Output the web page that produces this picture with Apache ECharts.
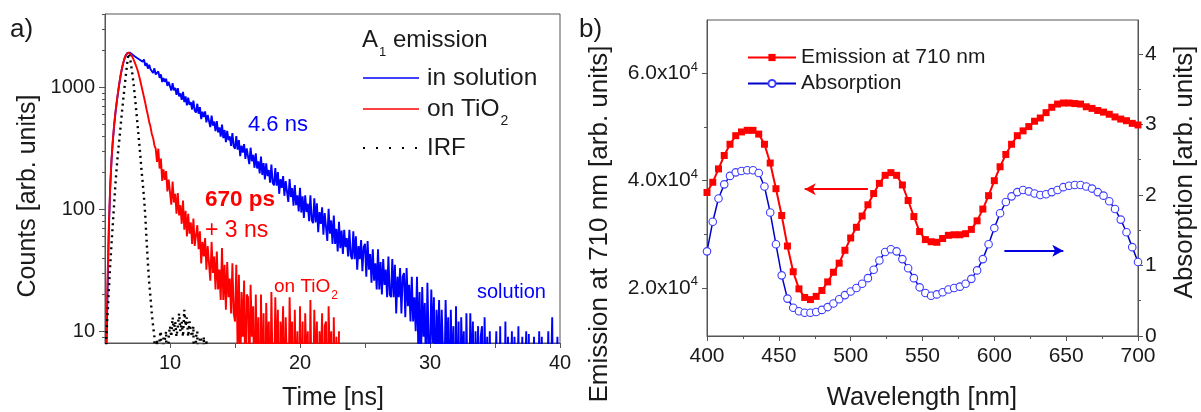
<!DOCTYPE html>
<html>
<head>
<meta charset="utf-8">
<script src="https://cdn.jsdelivr.net/npm/echarts@6.0.0/dist/echarts.min.js"></script>
<style>html,body{margin:0;padding:0;background:#fff}#main{width:1201px;height:412px}</style>
</head>
<body>
<div id="main"></div>
<script>
// ---------------- Panel a: time-resolved counts (t = timeStartNs + i*timeStepNs) ----------------
const timeStartNs = 5.0;
const timeStepNs = 0.1;
const solutionCounts = [
  1, 6, 22, 70, 150, 250, 360, 480, 610, 750,
  900, 1070, 1250, 1420, 1580, 1720, 1830, 1905, 1940, 1930,
  1905, 1860, 1875, 1790, 1810, 1735, 1760, 1680, 1710, 1620,
  1694, 1506, 1583, 1426, 1535, 1408, 1435, 1314, 1433, 1277,
  1233, 1351, 1196, 1278, 1107, 1192, 1112, 1177, 1028, 1109,
  1102, 943, 1085, 946, 992, 869, 985, 845, 893, 789,
  917, 758, 842, 711, 823, 720, 756, 659, 778, 646,
  621, 734, 608, 689, 549, 631, 570, 636, 516, 593,
  588, 473, 586, 485, 525, 437, 530, 428, 469, 395,
  495, 383, 447, 356, 440, 369, 397, 331, 422, 328,
  314, 398, 309, 370, 273, 333, 292, 343, 259, 316,
  317, 235, 320, 248, 279, 219, 288, 216, 247, 197,
  271, 191, 239, 176, 238, 187, 210, 165, 233, 165,
  157, 218, 156, 202, 134, 177, 150, 187, 129, 170,
  172, 115, 177, 126, 149, 107, 158, 108, 130, 96,
  150, 94, 128, 85, 130, 95, 111, 80, 130, 82,
  77, 123, 78, 112, 65, 95, 76, 104, 62, 93,
  95, 55, 101, 63, 81, 52, 89, 52, 69, 45,
  79, 48, 67, 43, 68, 49, 58, 41, 68, 42,
  39, 66, 39, 60, 32, 50, 39, 56, 31, 49,
  52, 28, 55, 32, 43, 25, 47, 26, 36, 22,
  47, 22, 37, 20, 39, 24, 32, 19, 41, 20,
  19, 39, 19, 35, 14, 28, 19, 33, 14, 28,
  30, 13, 33, 16, 24, 12, 28, 12, 19, 10,
  28, 7, 21, 5, 23, 9, 17, 4, 25, 8,
  6, 22, 8, 19, 3, 15, 7, 18, 4, 15,
  15, 3, 18, 6, 13, 2, 15, 4, 11, 1,
  16, 2, 12, 1, 13, 5, 10, 1, 14, 3,
  2, 14, 4, 12, 1, 10, 3, 11, 1, 9,
  11, 1, 13, 3, 9, 1, 10, 2, 7, 1,
  1, 10, 2, 1, 11, 1, 4, 1, 12, 1,
  9, 1, 3, 10, 1, 9, 1, 2, 11, 1,
  1, 9, 1, 3, 10, 1, 9.5, 1, 1, 2,
  9, 1, 1, 2, 10, 1, 9, 1, 3, 1,
  1, 10, 1, 1, 13, 1, 2, 1, 9, 1,
  1
];
const tio2Counts = [
  1, 8, 28, 75, 155, 255, 365, 490, 620, 760,
  910, 1080, 1260, 1430, 1590, 1730, 1840, 1910, 1935, 1910,
  1860, 1780, 1690, 1590, 1490, 1390, 1270, 1150, 1030, 925,
  830, 745, 655, 590, 520, 475, 415, 385, 335, 315,
  245, 314, 216, 261, 171, 213, 174, 206, 140, 175,
  173, 109, 169, 114, 134, 92, 136, 89, 108, 76,
  118, 68, 97, 60, 92, 63, 78, 52, 84, 50,
  49, 74, 47, 66, 36, 54, 41, 58, 32, 50,
  50, 26, 54, 30, 41, 22, 45, 22, 32, 18,
  48, 18, 35, 15, 37, 19, 27, 14, 36, 14,
  12, 35, 7, 29, 4, 21, 9, 26, 3, 20,
  19, 4, 24, 9, 16, 2, 20, 5, 13, 1,
  20, 3, 14, 1, 17, 6, 12, 2, 21, 4,
  3, 19, 5, 15, 1, 12, 6, 16, 2, 13,
  13, 2, 19, 6, 12, 1, 15, 3, 10, 1,
  16, 2, 12, 1, 14, 5, 10, 1, 18, 3,
  2, 15, 4, 12, 1, 10, 5, 14, 1, 11,
  12, 1, 16, 5, 10, 1, 13, 2, 9, 1,
  10
];
const irfCounts = [
  1, 9, 14, 22, 35, 52, 75, 110, 160, 220,
  290, 370, 480, 620, 790, 1000, 1250, 1550, 1900, 1800,
  1550, 1300, 1060, 840, 650, 500, 380, 290, 215, 165,
  125, 88, 55, 36, 25, 19, 14, 11, 9, 1,
  8.5, 1, 9, 10, 1, 9, 8.5, 10, 1, 9,
  11, 9, 13, 10, 12, 9, 11, 14, 10, 12,
  9, 15, 11, 13, 9, 12, 10, 9, 11, 1,
  9, 10, 1, 9, 8.5, 1, 9, 1, 8.5, 1,
  1
];
const timeTicks = [10, 20, 30, 40];
const countMajorTicks = [10, 100, 1000];
const countMinorTicks = [9, 20, 30, 40, 50, 60, 70, 80, 90, 200, 300, 400, 500, 600, 700, 800, 900, 2000, 3000, 4000];

// ---------------- Panel b: spectra ----------------
const wavelengths = [
  400, 404, 408, 412, 416, 420, 424, 428, 432, 436,
  440, 444, 448, 452, 456, 460, 464, 468, 472, 476,
  480, 484, 488, 492, 496, 500, 504, 508, 512, 516,
  520, 524, 528, 532, 536, 540, 544, 548, 552, 556,
  560, 564, 568, 572, 576, 580, 584, 588, 592, 596,
  600, 604, 608, 612, 616, 620, 624, 628, 632, 636,
  640, 644, 648, 652, 656, 660, 664, 668, 672, 676,
  680, 684, 688, 692, 696, 700
];
const emission710 = [
  37800, 39700, 42200, 44700, 46800, 48400, 49100, 49400, 49400, 48700,
  46800, 43300, 38500, 33500, 27800, 23000, 19800, 18200, 17800, 18400,
  19500, 21100, 22900, 24600, 27000, 29300, 31300, 33400, 35500, 37600,
  39500, 41000, 41500, 41000, 39200, 36300, 33300, 30500, 29000, 28600,
  28500, 29200, 29800, 29900, 29900, 30100, 30900, 32500, 34700, 37200,
  40000, 42600, 44900, 46800, 48400, 49300, 50100, 51100, 51700, 52700,
  53700, 54300, 54500, 54500, 54400, 54300, 53800, 53500, 53100, 52800,
  52400, 51900, 51500, 51200, 50700, 50400
];
const absorption = [
  1.20, 1.62, 1.95, 2.15, 2.27, 2.32, 2.34, 2.35, 2.35, 2.31,
  2.12, 1.75, 1.30, 0.86, 0.53, 0.40, 0.35, 0.33, 0.33, 0.34,
  0.37, 0.41, 0.46, 0.52, 0.58, 0.63, 0.68, 0.74, 0.82, 0.94,
  1.07, 1.19, 1.23, 1.20, 1.09, 0.96, 0.82, 0.69, 0.61, 0.57,
  0.59, 0.62, 0.66, 0.68, 0.70, 0.74, 0.81, 0.93, 1.09, 1.30,
  1.53, 1.74, 1.90, 1.98, 2.04, 2.07, 2.05, 2.02, 2.00, 2.01,
  2.04, 2.07, 2.11, 2.13, 2.14, 2.14, 2.12, 2.09, 2.04, 1.99,
  1.91, 1.80, 1.65, 1.47, 1.26, 1.05
];
const emissionMajorTicks = [20000, 40000, 60000];
const emissionMinorTicks = [30000, 50000];
const absorptionMajorTicks = [0, 1, 2, 3, 4];
const absorptionMinorTicks = [0.5, 1.5, 2.5, 3.5];
// arrow annotations (data units): [x start, x end, y]
const emissionArrow = [512, 468, 38400];
const absorptionArrow = [607, 648, 1.21];

// ---------------- build ----------------
const FONT = '"Liberation Sans", Arial, Helvetica, sans-serif';
const TXT = '#1a1a1a';
const AX = '#555555';

function withTime(values) {
  return values.map((v, i) => [+(timeStartNs + i * timeStepNs).toFixed(2), v]);
}
function zip(xs, ys) { return xs.map((x, i) => [x, ys[i]]); }

function txt(x, y, text, extra, rotation) {
  return {
    type: 'text', x: x, y: y, silent: true, z: 100, rotation: rotation || 0,
    style: Object.assign({
      text: text, fill: TXT, fontFamily: FONT, fontSize: 20,
      align: 'left', verticalAlign: 'middle'
    }, extra || {})
  };
}
function subRich(size, subSize, color, drop) {
  return {
    m: {fontSize: size, fill: color, fontFamily: FONT},
    s: {fontSize: subSize, fill: color, fontFamily: FONT, padding: [drop, 0, 0, 1]}
  };
}

const chart = echarts.init(document.getElementById('main'), null, {renderer: 'canvas', width: 1201, height: 412});

const axisCommon = {
  axisLine: {show: true, onZero: false, lineStyle: {color: AX, width: 1}},
  axisTick: {show: true, inside: false, length: 5, lineStyle: {color: AX, width: 1}},
  splitLine: {show: false},
  minorSplitLine: {show: false}
};
// helper axis drawing only short minor ticks at given values
function minorAxis(base, values, position) {
  return Object.assign({}, base, {
    position: position,
    axisLine: {show: false},
    axisLabel: {show: false},
    splitLine: {show: false},
    axisTick: {show: true, inside: false, length: 3, customValues: values, lineStyle: {color: AX, width: 1}}
  });
}

const yCountBase = {gridIndex: 0, type: 'log', logBase: 10, min: 8, max: 4000};
const yEmisBase = {gridIndex: 1, type: 'value', min: 11000, max: 70000};
const yAbsBase = {gridIndex: 1, type: 'value', min: 0, max: 4.48};

const option = {
  animation: false,
  backgroundColor: '#ffffff',
  textStyle: {fontFamily: FONT, color: TXT},
  grid: [
    {left: 105, top: 14, width: 455, height: 329, show: true, borderColor: AX, borderWidth: 1, backgroundColor: 'transparent', containLabel: false, outerBoundsMode: 'none'},
    {left: 707, top: 20, width: 431, height: 316, show: true, borderColor: AX, borderWidth: 1, backgroundColor: 'transparent', containLabel: false, outerBoundsMode: 'none'}
  ],
  xAxis: [
    Object.assign({}, axisCommon, {
      gridIndex: 0, type: 'value', min: 5, max: 40, interval: 5,
      axisLabel: {fontSize: 20, color: TXT, margin: 10, showMinLabel: false,
        formatter: v => timeTicks.indexOf(Math.round(v)) >= 0 ? String(Math.round(v)) : ''}
    }),
    Object.assign({}, axisCommon, {
      gridIndex: 1, type: 'value', min: 400, max: 700, interval: 50,
      minorTick: {show: true, splitNumber: 2, length: 3, lineStyle: {color: AX}},
      axisLabel: {fontSize: 21, color: TXT, margin: 10}
    })
  ],
  yAxis: [
    Object.assign({}, axisCommon, yCountBase, {
      axisTick: {show: true, inside: false, length: 6, customValues: countMajorTicks, lineStyle: {color: AX, width: 1}},
      axisLabel: {fontSize: 20, color: TXT, margin: 10, customValues: countMajorTicks,
        formatter: v => String(Math.round(v))}
    }),
    Object.assign({}, axisCommon, yEmisBase, {
      position: 'left',
      axisTick: {show: true, inside: false, length: 5, customValues: emissionMajorTicks, lineStyle: {color: AX, width: 1}},
      axisLabel: {color: TXT, margin: 9, customValues: emissionMajorTicks,
        formatter: v => '{m|' + (v / 10000).toFixed(1) + 'x10}{s|4}',
        rich: {m: {fontSize: 21, color: TXT, fontFamily: FONT}, s: {fontSize: 13, color: TXT, fontFamily: FONT, padding: [0, 0, 12, 0]}}}
    }),
    Object.assign({}, axisCommon, yAbsBase, {
      position: 'right',
      axisTick: {show: true, inside: false, length: 5, customValues: absorptionMajorTicks, lineStyle: {color: AX, width: 1}},
      axisLabel: {fontSize: 21, color: TXT, margin: 7, customValues: absorptionMajorTicks,
        formatter: v => String(Math.round(v))}
    }),
    minorAxis(yCountBase, countMinorTicks, 'left'),
    minorAxis(yEmisBase, emissionMinorTicks, 'left'),
    minorAxis(yAbsBase, absorptionMinorTicks, 'right')
  ],
  legend: [{
    data: ['Emission at 710 nm', 'Absorption'],
    left: 742, top: 42, orient: 'vertical', itemWidth: 48, itemHeight: 9, itemGap: 5,
    selectedMode: false,
    textStyle: {fontSize: 21, color: TXT, fontFamily: FONT}
  }],
  series: [
    {
      name: 'in solution', type: 'line', xAxisIndex: 0, yAxisIndex: 0,
      data: withTime(solutionCounts), symbol: 'none', silent: true, z: 2,
      lineStyle: {color: '#0000ff', width: 1.9, join: 'bevel'}, itemStyle: {color: '#0000ff'}
    },
    {
      name: 'on TiO2', type: 'line', xAxisIndex: 0, yAxisIndex: 0,
      data: withTime(tio2Counts), symbol: 'none', silent: true, z: 3,
      lineStyle: {color: '#ff0000', width: 1.9, join: 'bevel'}, itemStyle: {color: '#ff0000'}
    },
    {
      name: 'IRF', type: 'line', xAxisIndex: 0, yAxisIndex: 0,
      data: withTime(irfCounts), symbol: 'none', silent: true, z: 4,
      lineStyle: {color: '#000000', width: 2.4, type: [2, 4]}, itemStyle: {color: '#000000'}
    },
    {
      name: 'Emission at 710 nm', type: 'line', xAxisIndex: 1, yAxisIndex: 1,
      data: zip(wavelengths, emission710), symbol: 'rect', symbolSize: 7, showAllSymbol: true,
      silent: true, z: 3,
      lineStyle: {color: '#ff0000', width: 2}, itemStyle: {color: '#ff0000'},
      markLine: {
        silent: true, symbol: ['none', 'arrow'], symbolSize: [9, 11],
        label: {show: false}, lineStyle: {color: '#ff0000', width: 2, type: 'solid'},
        data: [[{coord: [emissionArrow[0], emissionArrow[2]]}, {coord: [emissionArrow[1], emissionArrow[2]]}]]
      }
    },
    {
      name: 'Absorption', type: 'line', xAxisIndex: 1, yAxisIndex: 2,
      data: zip(wavelengths, absorption), symbol: 'circle', symbolSize: 7.5, showAllSymbol: true,
      silent: true, z: 2,
      lineStyle: {color: '#0000c8', width: 1.5},
      itemStyle: {color: '#ffffff', borderColor: '#3c3cff', borderWidth: 1.1},
      markLine: {
        silent: true, symbol: ['none', 'arrow'], symbolSize: [9, 11],
        label: {show: false}, lineStyle: {color: '#0000e0', width: 2, type: 'solid'},
        data: [[{coord: [absorptionArrow[0], absorptionArrow[2]]}, {coord: [absorptionArrow[1], absorptionArrow[2]]}]]
      }
    }
  ],
  graphic: [
    txt(10, 30, 'a)', {fontSize: 26}),
    txt(579, 30, 'b)', {fontSize: 26}),
    // panel a legend
    txt(362, 40, '{m|A}{s|1}{m| emission}', {rich: subRich(24, 13, TXT, 24)}),
    {type: 'line', silent: true, z: 100, shape: {x1: 363, y1: 78, x2: 419, y2: 78}, style: {stroke: '#0000ff', lineWidth: 1.5}},
    {type: 'line', silent: true, z: 100, shape: {x1: 363, y1: 109, x2: 419, y2: 109}, style: {stroke: '#ff0000', lineWidth: 1.5}},
    {type: 'line', silent: true, z: 100, shape: {x1: 363, y1: 148, x2: 419, y2: 148}, style: {stroke: '#000000', lineWidth: 2, lineDash: [2, 11]}},
    txt(427, 78, 'in solution', {fontSize: 24.5}),
    txt(427, 109, '{m|on TiO}{s|2}', {rich: subRich(24.5, 14, TXT, 24)}),
    txt(427, 148, 'IRF', {fontSize: 24}),
    // panel a annotations
    txt(248, 125, '4.6 ns', {fontSize: 22, fill: '#0000ff'}),
    txt(205, 200, '670 ps', {fontSize: 22.5, fill: '#ff0000', fontWeight: 'bold'}),
    txt(205, 231, '+ 3 ns', {fontSize: 23, fill: '#ff0000'}),
    txt(274, 287, '{m|on TiO}{s|2}', {rich: subRich(19, 12, '#ff0000', 18)}),
    txt(477, 292, 'solution', {fontSize: 20, fill: '#0000ff'}),
    // axis titles
    txt(28, 196, 'Counts [arb. units]', {fontSize: 25, align: 'center'}, Math.PI / 2),
    txt(333, 398, 'Time [ns]', {fontSize: 25, align: 'center'}),
    txt(600, 224, 'Emission at 710 nm [arb. units]', {fontSize: 26, align: 'center'}, Math.PI / 2),
    txt(1185, 172, 'Absorption [arb. units]', {fontSize: 26, align: 'center'}, Math.PI / 2),
    txt(922, 398, 'Wavelength [nm]', {fontSize: 25.5, align: 'center'})
  ]
};

chart.setOption(option);
</script>
</body>
</html>
